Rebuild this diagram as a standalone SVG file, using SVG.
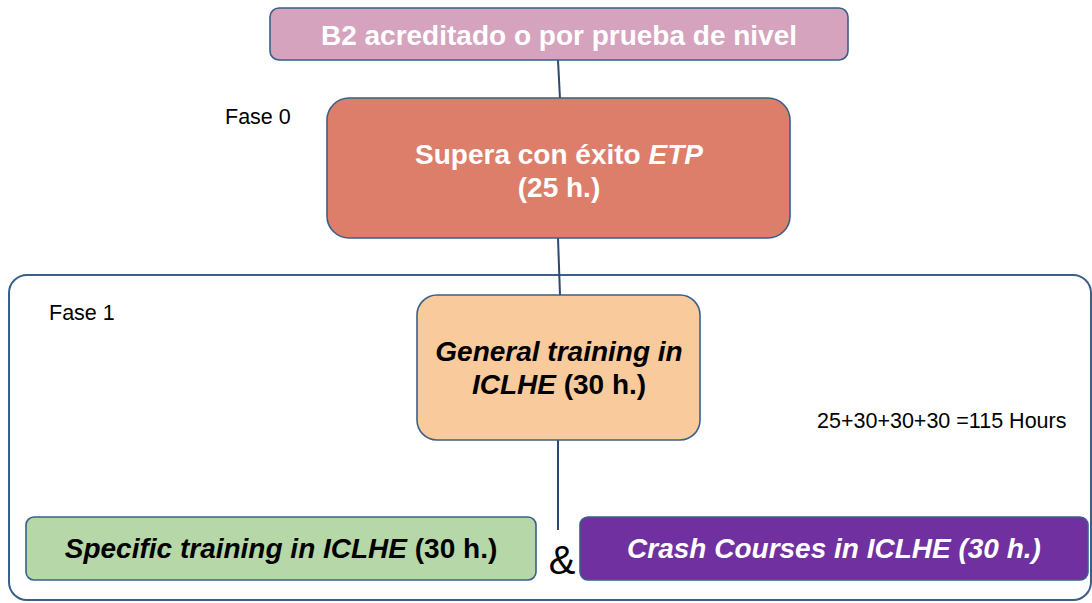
<svg xmlns="http://www.w3.org/2000/svg" width="1092" height="603" viewBox="0 0 1092 603">
<style>
.node{stroke:#3a5f8a;stroke-width:1.6}
.conn{stroke:#2c4a6e;stroke-width:2;fill:none}
.t{font-family:"Liberation Sans",Arial,sans-serif}
.w{fill:#fff;font-weight:bold}
.k{fill:#000;font-weight:bold}
.lbl{font-family:"Liberation Sans",Arial,sans-serif;font-size:21.5px;fill:#000}
</style>
<rect x="0" y="0" width="1092" height="603" fill="#fff"/>
<g id="fase1-frame">
<rect x="9" y="275" width="1082" height="325" rx="18" fill="none" stroke="#3a5f8a" stroke-width="2"/>
</g>
<g id="connectors">
<line class="conn" x1="558" y1="60" x2="560" y2="99"/>
<line class="conn" x1="558" y1="238" x2="560" y2="295"/>
<line class="conn" x1="558" y1="440" x2="558" y2="530"/>
</g>
<g id="b2">
<rect class="node" x="270" y="8" width="578" height="52" rx="9" fill="#d5a3bd"/>
<text class="t w" x="559" y="45" font-size="28" text-anchor="middle">B2 acreditado o por prueba de nivel</text>
</g>
<g id="etp">
<rect class="node" x="327" y="98" width="463" height="140" rx="22" fill="#dd7e6a"/>
<text class="t w" x="559" y="164" font-size="28" text-anchor="middle">Supera con éxito <tspan font-style="italic">ETP</tspan></text>
<text class="t w" x="559" y="197" font-size="28" text-anchor="middle">(25 h.)</text>
</g>
<g id="general">
<rect class="node" x="417" y="295" width="283" height="145" rx="20" fill="#f8ca9c"/>
<text class="t k" x="559" y="361" font-size="28" text-anchor="middle" font-style="italic">General training in</text>
<text class="t k" x="559" y="394" font-size="28" text-anchor="middle"><tspan font-style="italic">ICLHE</tspan> (30 h.)</text>
</g>
<g id="specific">
<rect class="node" x="26" y="517" width="510" height="63" rx="8" fill="#b6d7a8"/>
<text class="t k" x="281" y="558" font-size="28" text-anchor="middle"><tspan font-style="italic">Specific training in ICLHE</tspan> (30 h.)</text>
</g>
<g id="crash">
<rect class="node" x="580" y="517" width="508" height="63" rx="8" fill="#7030a0"/>
<text class="t w" x="834" y="558" font-size="28" text-anchor="middle" font-style="italic">Crash Courses in ICLHE (30 h.)</text>
</g>
<text class="t" x="562" y="574" font-size="40" text-anchor="middle" fill="#000">&amp;</text>
<text class="lbl" x="225" y="124">Fase 0</text>
<text class="lbl" x="49" y="320">Fase 1</text>
<text class="lbl" x="817" y="428">25+30+30+30 =115 Hours</text>
</svg>
